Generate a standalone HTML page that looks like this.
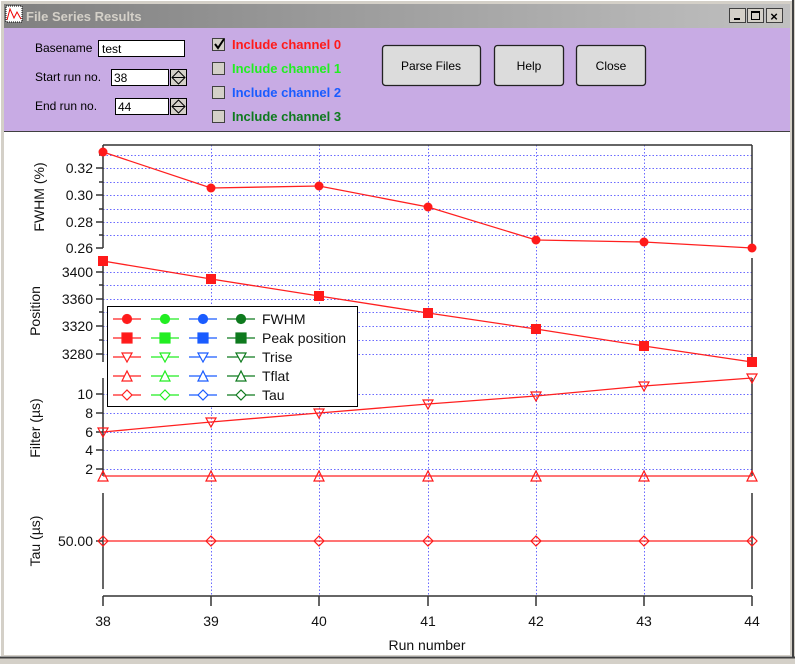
<!DOCTYPE html>
<html><head><meta charset="utf-8"><style>
body{margin:0;width:795px;height:659px;overflow:hidden;background:#d4d0c8;font-family:"Liberation Sans",sans-serif}
</style></head><body>
<svg width="795" height="659" xmlns="http://www.w3.org/2000/svg" font-family="Liberation Sans, sans-serif">
<defs>
<linearGradient id="tb" x1="0" x2="1"><stop offset="0" stop-color="#808080"/><stop offset="1" stop-color="#c0c0c0"/></linearGradient>
</defs>
<rect x="0" y="0" width="795" height="659" fill="#d4d0c8"/>
<rect x="0.5" y="0.5" width="792" height="656" fill="none" stroke="#fff"/>
<line x1="793" y1="0" x2="793" y2="658" stroke="#404040" stroke-width="2"/>
<line x1="0" y1="657.5" x2="795" y2="657.5" stroke="#404040" stroke-width="2"/>
<rect x="4" y="4" width="786" height="24" fill="url(#tb)"/>
<rect x="6" y="6" width="16" height="16" fill="#fff" stroke="#000" stroke-dasharray="1,1"/>
<path d="M7 20 L10 9 L14 18 L17 12 L21 19" stroke="#e00" fill="none"/>
<text x="26" y="21" font-size="13" font-weight="bold" fill="#d4d0c8">File Series Results</text>
<g fill="#d4d0c8" stroke="#404040"><rect x="729.5" y="8.5" width="16" height="14"/><rect x="747.5" y="8.5" width="16" height="14"/><rect x="766.5" y="8.5" width="16" height="14"/></g>
<rect x="734" y="18" width="6" height="2" fill="#000"/>
<rect x="751.5" y="11.5" width="8" height="8" fill="none" stroke="#000"/><rect x="751" y="11" width="9" height="2" fill="#000"/>
<text x="774" y="21" font-size="13" font-weight="bold" text-anchor="middle">×</text>
<rect x="4" y="28" width="786" height="103" fill="#c8abe4"/>
<line x1="4" y1="131.5" x2="790" y2="131.5" stroke="#404040"/>
<rect x="4" y="132" width="786" height="523" fill="#fff"/>
<g font-size="12" fill="#000">
<text x="35" y="52">Basename</text>
<text x="35" y="81">Start run no.</text>
<text x="35" y="110">End run no.</text>
</g>
<g fill="#fff" stroke="#000"><rect x="98.5" y="40.5" width="86" height="16"/><rect x="111.5" y="69.5" width="57" height="16"/><rect x="115.5" y="98.5" width="53" height="16"/></g>
<g font-size="12"><text x="102" y="53">test</text><text x="114" y="82">38</text><text x="118" y="111">44</text></g>
<g fill="#d4d0c8" stroke="#000"><rect x="170.5" y="69.5" width="16" height="16"/><rect x="170.5" y="98.5" width="16" height="16"/>
<path d="M172 77.5 L178.5 71 L185 77.5 L178.5 84 Z M172 77.5 H185" fill="none"/><path d="M172 106.5 L178.5 100 L185 106.5 L178.5 113 Z M172 106.5 H185" fill="none"/></g>
<g fill="#d4d0c8" stroke="#404040"><rect x="212.5" y="38.5" width="12" height="12"/><rect x="212.5" y="62.5" width="12" height="12"/><rect x="212.5" y="86.5" width="12" height="12"/><rect x="212.5" y="110.5" width="12" height="12"/></g>
<path d="M215 44 L218 48 L224 39" stroke="#000" stroke-width="2" fill="none"/>
<g font-size="13" font-weight="bold">
<text x="232" y="49" fill="#ff1a1a">Include channel 0</text>
<text x="232" y="73" fill="#22ee22">Include channel 1</text>
<text x="232" y="97" fill="#1a5cff">Include channel 2</text>
<text x="232" y="121" fill="#0e7a1e">Include channel 3</text>
</g>
<g fill="#dcdcdc" stroke="#222" stroke-width="1.3"><rect x="382.5" y="45.5" width="98" height="40" rx="3"/><rect x="494.5" y="45.5" width="69" height="40" rx="3"/><rect x="576.5" y="45.5" width="69" height="40" rx="3"/></g>
<g font-size="12" text-anchor="middle"><text x="431" y="70">Parse Files</text><text x="529" y="70">Help</text><text x="611" y="70">Close</text></g>

<g stroke="#6a6aff" stroke-width="1" stroke-dasharray="1.5,2">
<path d="M211.5 145V596M319.5 145V596M428.5 145V596M536.5 145V596M644.5 145V596"/>
<path d="M103 155.5H752M103 168.5H752M103 182.5H752M103 195.5H752M103 209.5H752M103 222.5H752M103 235.5H752"/>
<path d="M103 272.5H752M103 285.5H752M103 299.5H752M103 312.5H752M103 326.5H752M103 340.5H752M103 354.5H752"/>
<path d="M103 394.5H752M103 413.5H752M103 432.5H752M103 450.5H752M103 469.5H752"/>
</g>
<g stroke="#333" stroke-width="1.5" fill="none">
<path d="M103 145H752"/>
<path d="M103 145V248M752 145V248"/>
<path d="M103 258V362M752 258V362"/>
<path d="M103 378V476M752 378V476"/>
<path d="M103 493V589M752 493V589"/>
<path d="M103 596H752"/>
<path d="M103 596V606M211 596V606M319 596V606M428 596V606M536 596V606M644 596V606M752 596V606"/>
<path d="M96 168H103M96 195H103M96 222H103M96 248H103M99 155H103M99 182H103M99 209H103M99 235H103"/>
<path d="M96 272H103M96 299H103M96 326H103M96 354H103M99 285H103M99 312H103M99 340H103M99 261H103"/>
<path d="M96 394H103M96 413H103M96 432H103M96 450H103M96 469H103"/>
<path d="M96 541H103"/>
</g>
<g font-size="14" fill="#111" text-anchor="end">
<text x="93" y="173">0.32</text><text x="93" y="200">0.30</text><text x="93" y="227">0.28</text><text x="93" y="253">0.26</text>
<text x="93" y="277">3400</text><text x="93" y="304">3360</text><text x="93" y="331">3320</text><text x="93" y="359">3280</text>
<text x="93" y="399">10</text><text x="93" y="418">8</text><text x="93" y="437">6</text><text x="93" y="455">4</text><text x="93" y="474">2</text>
<text x="93" y="546">50.00</text>
</g>
<g font-size="14" fill="#111" text-anchor="middle">
<text x="103" y="626">38</text><text x="211" y="626">39</text><text x="319" y="626">40</text><text x="428" y="626">41</text><text x="536" y="626">42</text><text x="644" y="626">43</text><text x="752" y="626">44</text>
<text x="427" y="650">Run number</text>
<text transform="translate(44,197) rotate(-90)">FWHM (%)</text>
<text transform="translate(40,311) rotate(-90)">Position</text>
<text transform="translate(40,428) rotate(-90)">Filter (µs)</text>
<text transform="translate(40,541) rotate(-90)">Tau (µs)</text>
</g>
<g stroke="#ff2020" fill="none" stroke-width="1.3">
<polyline points="103,152 211,188 319,186 428,207 536,240 644,242 752,248"/>
<polyline points="103,261 211,279 319,296 428,313 536,329 644,346 752,362"/>
<polyline points="103,432 211,422 319,413 428,404 536,396 644,386 752,378"/>
<polyline points="103,476 752,476"/>
<polyline points="103,541 752,541"/>
</g>
<g fill="#ff1a1a">
<circle cx="103" cy="152" r="4.5"/><circle cx="211" cy="188" r="4.5"/><circle cx="319" cy="186" r="4.5"/><circle cx="428" cy="207" r="4.5"/><circle cx="536" cy="240" r="4.5"/><circle cx="644" cy="242" r="4.5"/><circle cx="752" cy="248" r="4.5"/>
<rect x="98" y="256" width="10" height="10"/><rect x="206" y="274" width="10" height="10"/><rect x="314" y="291" width="10" height="10"/><rect x="423" y="308" width="10" height="10"/><rect x="531" y="324" width="10" height="10"/><rect x="639" y="341" width="10" height="10"/><rect x="747" y="357" width="10" height="10"/>
</g>
<g fill="none" stroke="#ff1a1a" stroke-width="1.2">
<path d="M98 428H108L103 437Z M206 418H216L211 427Z M314 409H324L319 418Z M423 400H433L428 409Z M531 392H541L536 401Z M639 382H649L644 391Z M747 374H757L752 383Z"/>
<path d="M98 481H108L103 471Z M206 481H216L211 471Z M314 481H324L319 471Z M423 481H433L428 471Z M531 481H541L536 471Z M639 481H649L644 471Z M747 481H757L752 471Z"/>
<path d="M98 541L103 536L108 541L103 546Z M206 541L211 536L216 541L211 546Z M314 541L319 536L324 541L319 546Z M423 541L428 536L433 541L428 546Z M531 541L536 536L541 541L536 546Z M639 541L644 536L649 541L644 546Z M747 541L752 536L757 541L752 546Z"/>
</g>
<rect x="107.5" y="306.5" width="250" height="100" fill="#fff" stroke="#000"/>
<g stroke-width="1.2">
<g stroke="#ff2020" fill="#ff1a1a" transform="translate(127,0)">
<path d="M-14 319H14M-14 338H14M-14 357H14M-14 376H14M-14 395H14"/>
<circle cy="319" r="4.5"/><rect x="-5" y="333" width="10" height="10"/>
<path d="M-5 353H5L0 362Z M-5 381H5L0 371Z M-5 395L0 390L5 395L0 400Z" fill="#fff"/></g>
<g stroke="#22ee22" fill="#22ee22" transform="translate(165,0)">
<path d="M-14 319H14M-14 338H14M-14 357H14M-14 376H14M-14 395H14"/>
<circle cy="319" r="4.5"/><rect x="-5" y="333" width="10" height="10"/>
<path d="M-5 353H5L0 362Z M-5 381H5L0 371Z M-5 395L0 390L5 395L0 400Z" fill="#fff"/></g>
<g stroke="#1a5cff" fill="#1a5cff" transform="translate(203,0)">
<path d="M-14 319H14M-14 338H14M-14 357H14M-14 376H14M-14 395H14"/>
<circle cy="319" r="4.5"/><rect x="-5" y="333" width="10" height="10"/>
<path d="M-5 353H5L0 362Z M-5 381H5L0 371Z M-5 395L0 390L5 395L0 400Z" fill="#fff"/></g>
<g stroke="#0e7a1e" fill="#0e7a1e" transform="translate(241,0)">
<path d="M-14 319H14M-14 338H14M-14 357H14M-14 376H14M-14 395H14"/>
<circle cy="319" r="4.5"/><rect x="-5" y="333" width="10" height="10"/>
<path d="M-5 353H5L0 362Z M-5 381H5L0 371Z M-5 395L0 390L5 395L0 400Z" fill="#fff"/></g>
</g>
<g font-size="14" fill="#111">
<text x="262" y="324">FWHM</text><text x="262" y="343">Peak position</text><text x="262" y="362">Trise</text><text x="262" y="381">Tflat</text><text x="262" y="400">Tau</text>
</g>
</svg>
</body></html>
